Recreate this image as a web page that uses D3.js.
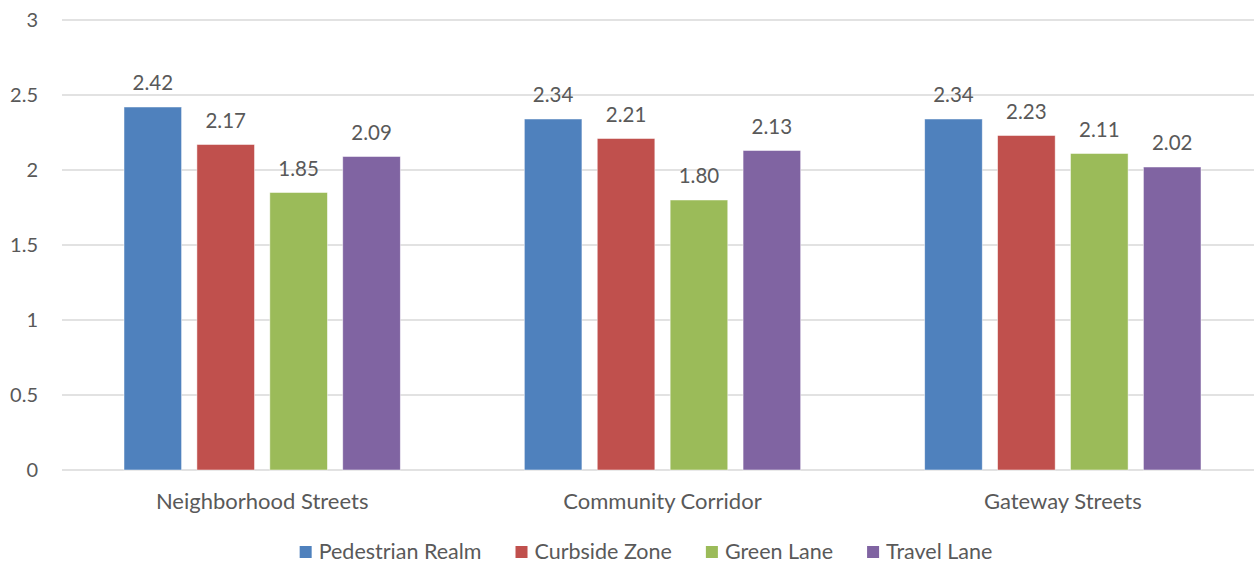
<!DOCTYPE html>
<html>
<head>
<meta charset="utf-8">
<title>Street zones bar chart</title>
<script src="https://cdn.jsdelivr.net/npm/d3@7"></script>
<style>
  body { margin: 0; background: #fff; }
  svg text { font-family: Lato, "Open Sans", sans-serif; fill: #595959; }
</style>
</head>
<body>
<svg id="vis" width="1254" height="565"></svg>
<script>
// data
var categories = ["Neighborhood Streets", "Community Corridor", "Gateway Streets"];
var seriesNames = ["Pedestrian Realm", "Curbside Zone", "Green Lane", "Travel Lane"];
var seriesColors = ["#4F81BD", "#C0504D", "#9BBB59", "#8064A2"];
var pedestrianRealm = [2.42, 2.34, 2.34];
var curbsideZone = [2.17, 2.21, 2.23];
var greenLane = [1.85, 1.80, 2.11];
var travelLane = [2.09, 2.13, 2.02];
var yTicks = [0, 0.5, 1, 1.5, 2, 2.5, 3];

var seriesValues = [pedestrianRealm, curbsideZone, greenLane, travelLane];

var svg = d3.select("#vis");

var x0 = d3.scaleBand().domain(categories).range([62, 1263]).padding(0);
var x1 = d3.scaleBand().domain(seriesNames)
    .range([62, x0.bandwidth() - 62]).paddingInner(0.21).paddingOuter(0);
var y = d3.scaleLinear().domain([0, 3]).range([470, 20]);
var color = d3.scaleOrdinal().domain(seriesNames).range(seriesColors);

// gridlines
svg.append("g").selectAll("line").data(yTicks).enter().append("line")
    .attr("x1", 62).attr("x2", 1254)
    .attr("y1", function (d) { return y(d); })
    .attr("y2", function (d) { return y(d); })
    .attr("stroke", "#d9d9d9").attr("stroke-width", 1.3);

// y axis labels
var yAxis = d3.axisLeft(y).tickValues(yTicks).tickSize(0).tickPadding(0)
    .tickFormat(function (d) { return d; });
var ya = svg.append("g").attr("transform", "translate(38,0)").call(yAxis);
ya.select(".domain").remove();
ya.selectAll("text").attr("font-size", 20).style("font-family", "Lato").attr("fill", "#595959");

// bars
var groups = svg.append("g").selectAll("g").data(categories).enter().append("g")
    .attr("transform", function (c) { return "translate(" + x0(c) + ",0)"; });

var rows = groups.selectAll("g.bar").data(function (c, i) {
    return seriesNames.map(function (s, j) { return { s: s, v: seriesValues[j][i] }; });
}).enter().append("g").attr("class", "bar");

rows.append("rect")
    .attr("x", function (d) { return x1(d.s); })
    .attr("width", x1.bandwidth())
    .attr("y", function (d) { return y(d.v); })
    .attr("height", function (d) { return y(0) - y(d.v); })
    .attr("fill", function (d) { return color(d.s); })
    .attr("stroke", "#ffffff").attr("stroke-opacity", 0.6).attr("stroke-width", 0.8);

rows.append("text")
    .attr("x", function (d) { return x1(d.s) + x1.bandwidth() / 2; })
    .attr("y", function (d) { return y(d.v) - 17; })
    .attr("text-anchor", "middle")
    .attr("font-size", 20.5)
    .attr("fill", "#404040")
    .text(function (d) { return d.v.toFixed(2); });

// x axis labels
var xAxis = d3.axisBottom(x0).tickSize(0).tickPadding(0);
var xa = svg.append("g").attr("transform", "translate(0,493)").call(xAxis);
xa.select(".domain").remove();
xa.selectAll("text").attr("font-size", 22).style("font-family", "Lato").attr("fill", "#595959");

// legend
var legend = svg.append("g");
var lx = 0;
seriesNames.forEach(function (s) {
    var item = legend.append("g").attr("transform", "translate(" + lx + ",0)");
    item.append("rect").attr("x", 0).attr("y", -6).attr("width", 12).attr("height", 12)
        .attr("fill", color(s));
    var t = item.append("text").attr("x", 19).attr("y", 0).attr("dy", "0.32em")
        .attr("font-size", 21.5).text(s);
    lx += 19 + t.node().getComputedTextLength() + 34;
});
lx -= 34;
legend.attr("transform", "translate(" + (646 - lx / 2) + ",552)");
</script>
</body>
</html>
